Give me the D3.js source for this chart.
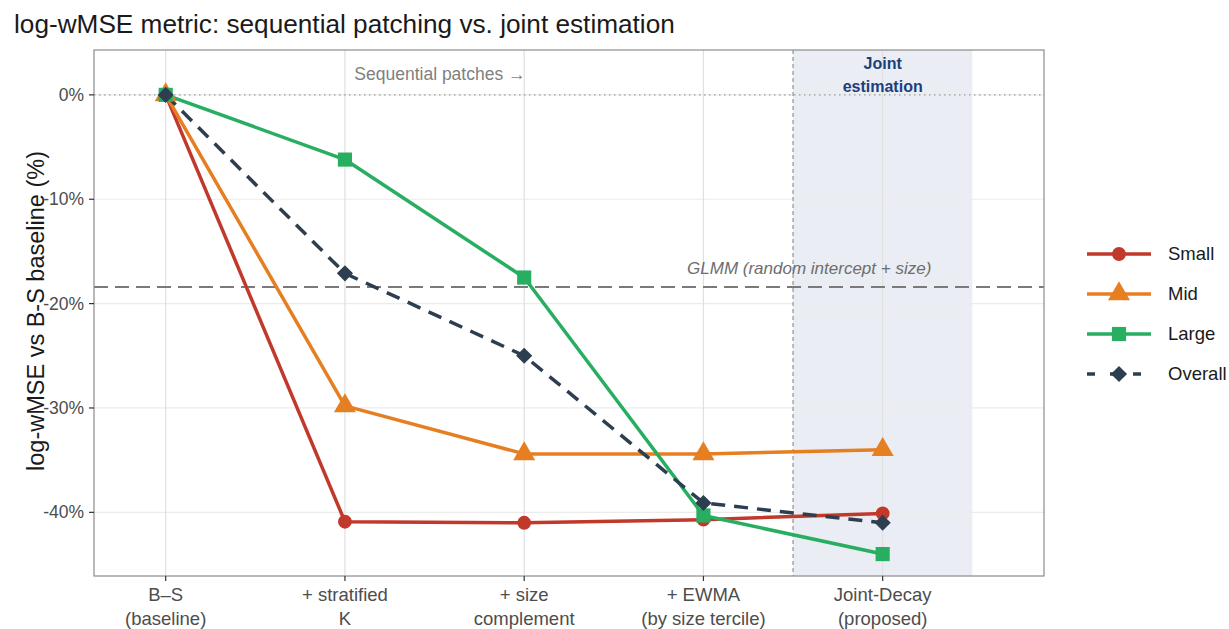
<!DOCTYPE html>
<html><head><meta charset="utf-8">
<script src="https://cdn.jsdelivr.net/npm/d3@7"></script>
<style>body{margin:0;background:#fff;font-family:"Liberation Sans",Arial,sans-serif}</style>
</head><body><svg id="c" width="1229" height="629"></svg>
<script>
const categories = [["B–S","(baseline)"],["+ stratified","K"],["+ size","complement"],["+ EWMA","(by size tercile)"],["Joint-Decay","(proposed)"]];
const small   = [0, -40.9, -41.0, -40.7, -40.1];
const mid     = [0, -29.8, -34.4, -34.4, -34.0];
const large   = [0, -6.2, -17.5, -40.3, -44.0];
const overall = [0, -17.1, -25.0, -39.1, -41.0];
const glmm = -18.4;
const yTicks = [0, -10, -20, -30, -40];
const seriesNames = ["Small","Mid","Large","Overall"];
const seriesColors = ["#c0392b","#e67e22","#27ae60","#2c3e50"];
const seriesShapes = [d3.symbolCircle, d3.symbolTriangle, d3.symbolSquare, d3.symbolSquare];
const seriesRot = [0,0,0,45];

const svg = d3.select("#c").attr("font-family","Liberation Sans, Arial, sans-serif");
const L=94,R=1044,T=50,B=576;
const x = d3.scaleLinear().domain([0.6,5.9]).range([L,R]);
const y = d3.scaleLinear().domain([4.3,-46.1]).range([T,B]);

// shaded region
svg.append("rect").attr("x",x(4.5)).attr("y",T).attr("width",x(5.5)-x(4.5)).attr("height",B-T).attr("fill","#eaedf3");
// grid
const g = svg.append("g");
yTicks.forEach(t=>g.append("line").attr("x1",L).attr("x2",R).attr("y1",y(t)).attr("y2",y(t)).attr("stroke","#ebebeb").attr("stroke-width",1.2));
categories.forEach((c,i)=>g.append("line").attr("x1",x(i+1)).attr("x2",x(i+1)).attr("y1",T).attr("y2",B).attr("stroke","#e0e0e0").attr("stroke-width",1.2));
// reference lines
svg.append("line").attr("x1",L).attr("x2",R).attr("y1",y(0)).attr("y2",y(0)).attr("stroke","#999").attr("stroke-width",1.2).attr("stroke-dasharray","1.5,3.5");
svg.append("line").attr("x1",x(4.5)).attr("x2",x(4.5)).attr("y1",T).attr("y2",B).attr("stroke","#999").attr("stroke-width",1.3).attr("stroke-dasharray","4,3");
svg.append("line").attr("x1",L).attr("x2",R).attr("y1",y(glmm)).attr("y2",y(glmm)).attr("stroke","#7a7a7a").attr("stroke-width",2).attr("stroke-dasharray","14,7");
svg.append("text").attr("x",x(4.59)).attr("y",y(glmm)-13).attr("text-anchor","middle").attr("font-size",17).attr("font-style","italic").attr("fill","#6e6e6e").text("GLMM (random intercept + size)");
svg.append("text").attr("x",x(2.53)).attr("y",80).attr("text-anchor","middle").attr("font-size",17.5).attr("fill","#7f7f7f").text("Sequential patches →");
const je = svg.append("text").attr("text-anchor","middle").attr("font-size",16).attr("font-weight","bold").attr("fill","#1a3f7f");
je.append("tspan").attr("x",x(5)).attr("y",69).text("Joint");
je.append("tspan").attr("x",x(5)).attr("y",92).text("estimation");

// series
const data=[small,mid,large,overall];
const sizes=[150,210,200,130];
data.forEach((s,k)=>{
  const line=d3.line().x((d,i)=>x(i+1)).y(d=>y(d));
  svg.append("path").datum(s).attr("d",line).attr("fill","none").attr("stroke",seriesColors[k]).attr("stroke-width",3.5)
    .attr("stroke-dasharray",k===3?"14,9":null).attr("stroke-linejoin","round");
});
data.forEach((s,k)=>{
  s.forEach((v,i)=>svg.append("path").attr("d",d3.symbol().type(seriesShapes[k]).size(sizes[k])())
    .attr("transform",`translate(${x(i+1)},${y(v)}) rotate(${seriesRot[k]})`).attr("fill",seriesColors[k]));
});

// panel border
svg.append("rect").attr("x",L).attr("y",T).attr("width",R-L).attr("height",B-T).attr("fill","none").attr("stroke","#8c8c8c").attr("stroke-width",1.2);

// axes
yTicks.forEach(t=>{
  svg.append("line").attr("x1",L-5).attr("x2",L).attr("y1",y(t)).attr("y2",y(t)).attr("stroke","#333").attr("stroke-width",1.2);
  svg.append("text").attr("x",L-10).attr("y",y(t)+6).attr("text-anchor","end").attr("font-size",17.5).attr("fill","#4d4d4d").text(t+"%");
});
categories.forEach((c,i)=>{
  svg.append("line").attr("x1",x(i+1)).attr("x2",x(i+1)).attr("y1",B).attr("y2",B+5).attr("stroke","#333").attr("stroke-width",1.2);
  const t=svg.append("text").attr("text-anchor","middle").attr("font-size",18.5).attr("fill","#4d4d4d");
  t.append("tspan").attr("x",x(i+1)).attr("y",601).text(c[0]);
  t.append("tspan").attr("x",x(i+1)).attr("y",625).text(c[1]);
});
svg.append("text").attr("transform",`translate(44,${(T+B)/2-2}) rotate(-90)`).attr("text-anchor","middle").attr("font-size",23.5).attr("fill","#1a1a1a").text("log-wMSE vs B-S baseline (%)");
svg.append("text").attr("x",14).attr("y",33).attr("font-size",26.2).attr("fill","#1a1a1a").text("log-wMSE metric: sequential patching vs. joint estimation");

// legend
seriesNames.forEach((n,k)=>{
  const yy=254+k*40, gx=1087, gw=64;
  svg.append("line").attr("x1",gx).attr("x2",gx+gw).attr("y1",yy).attr("y2",yy).attr("stroke",seriesColors[k]).attr("stroke-width",3.5).attr("stroke-dasharray",k===3?"8,15":null);
  svg.append("path").attr("d",d3.symbol().type(seriesShapes[k]).size(sizes[k])()).attr("transform",`translate(${gx+gw/2},${yy}) rotate(${seriesRot[k]})`).attr("fill",seriesColors[k]);
  svg.append("text").attr("x",1168).attr("y",yy+6).attr("font-size",18.5).attr("fill","#1a1a1a").text(n);
});
</script></body></html>
